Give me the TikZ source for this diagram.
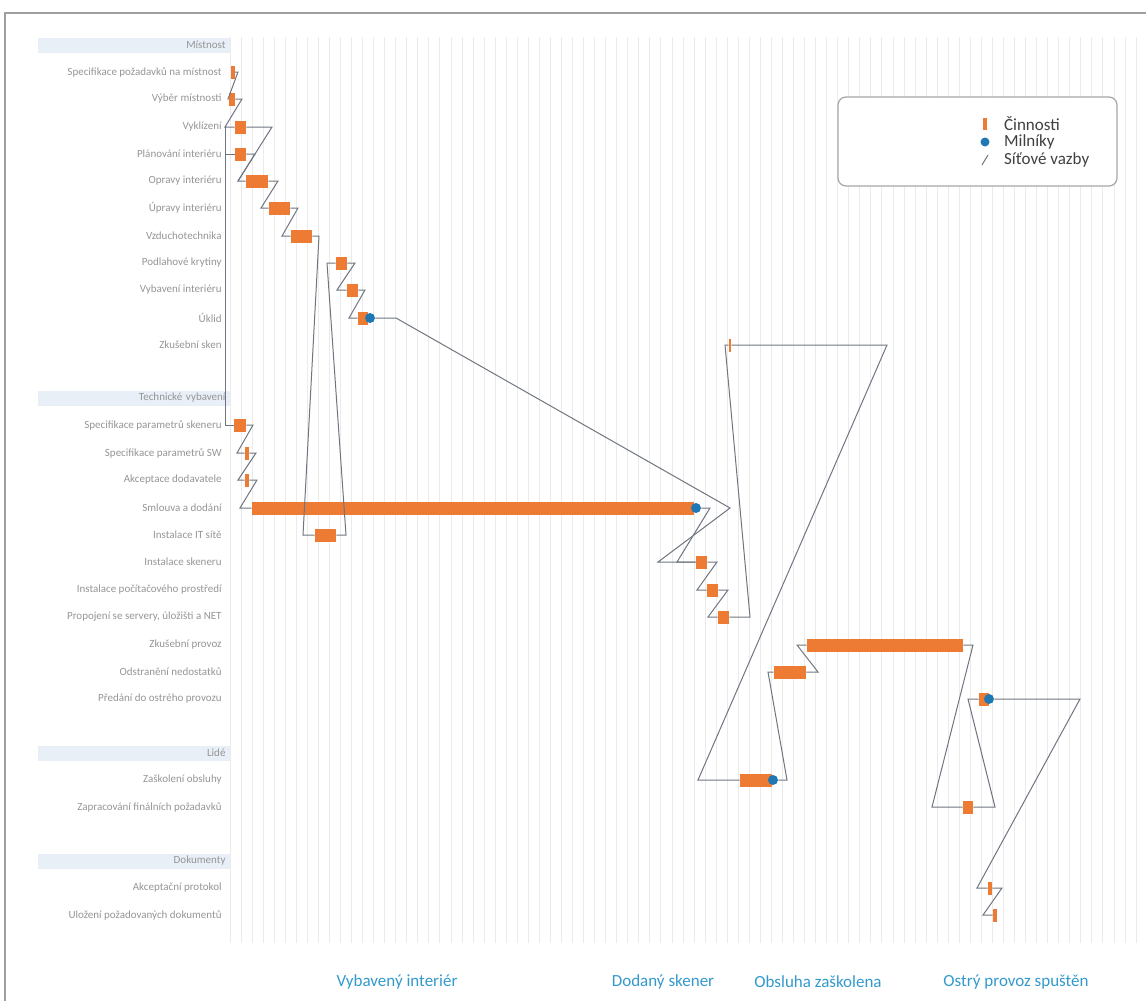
\documentclass[tikz,border=0pt]{standalone}
\usepackage{fontspec}
\setmainfont{Carlito}
\usepackage{tikz}
\definecolor{orange3}{HTML}{EE7B33}
\definecolor{blue3}{HTML}{1F78B4}
\definecolor{link3}{HTML}{6F7580}
\definecolor{label3}{HTML}{959595}
\definecolor{band3}{HTML}{E8EFF7}
\definecolor{grid3}{HTML}{EBEBEB}
\definecolor{title3}{HTML}{3399CC}

\begin{document}
\begin{tikzpicture}[x=0.5pt, y=-0.5pt,
  task/.style={rectangle, fill=orange3, inner sep=0pt, minimum height=6.5pt},
  milestone/.style={circle, fill=blue3, inner sep=0pt, minimum size=5pt},
  link/.style={draw=link3, line width=0.5pt},
  lbl/.style={anchor=east, text=label3, font=\fontsize{5.5}{6}\selectfont, inner sep=1pt},
  header/.style={fill=band3, text=label3, font=\fontsize{5.5}{6}\selectfont, text width=92pt, align=right, minimum height=7.5pt, inner xsep=2pt, inner ysep=0pt},
  goal/.style={text=title3, font=\fontsize{8.5}{10}\selectfont},
  legtext/.style={anchor=west, text=black!75, font=\fontsize{8.5}{10}\selectfont}]

  \useasboundingbox (0,0) rectangle (1146,1001);
  \draw[gray!75, line width=1pt] (5,1001) -- (5,13) -- (1146,13);

  % day grid
  \foreach \i in {0,...,82}
    \draw[grid3, line width=0.5pt] ({230+11.05*\i},37) -- ({230+11.05*\i},943);

  % sections and rows
  \node[header] (h1) at (133.5,45) {Místnost};
  \node[lbl] (l1) at (224,72) {Specifikace požadavků na místnost};
  \node[lbl] (l2) at (224,99) {Výběr místnosti};
  \node[lbl] (l3) at (224,127) {Vyklízení};
  \node[lbl] (l4) at (224,154) {Plánování interiéru};
  \node[lbl] (l5) at (224,181) {Opravy interiéru};
  \node[lbl] (l6) at (224,208) {Úpravy interiéru};
  \node[lbl] (l7) at (224,236) {Vzduchotechnika};
  \node[lbl] (l8) at (224,263) {Podlahové krytiny};
  \node[lbl] (l9) at (224,290) {Vybavení interiéru};
  \node[lbl] (l10) at (224,318) {Úklid};
  \node[lbl] (l11) at (224,345) {Zkušební sken};

  \node[header] (h2) at (133.5,398) {Technické vybavení};
  \node[lbl] (l12) at (224,425) {Specifikace parametrů skeneru};
  \node[lbl] (l13) at (224,453) {Specifikace parametrů SW};
  \node[lbl] (l14) at (224,480) {Akceptace dodavatele};
  \node[lbl] (l15) at (224,508) {Smlouva a dodání};
  \node[lbl] (l16) at (224,535) {Instalace IT sítě};
  \node[lbl] (l17) at (224,562) {Instalace skeneru};
  \node[lbl] (l18) at (224,590) {Instalace počítačového prostředí};
  \node[lbl] (l19) at (224,617) {Propojení se servery, úložišti a NET};
  \node[lbl] (l20) at (224,645) {Zkušební provoz};
  \node[lbl] (l21) at (224,672) {Odstranění nedostatků};
  \node[lbl] (l22) at (224,699) {Předání do ostrého provozu};

  \node[header] (h3) at (133.5,753) {Lidé};
  \node[lbl] (l23) at (224,780) {Zaškolení obsluhy};
  \node[lbl] (l24) at (224,807) {Zapracování finálních požadavků};

  \node[header] (h4) at (133.5,861) {Dokumenty};
  \node[lbl] (l25) at (224,888) {Akceptační protokol};
  \node[lbl] (l26) at (224,915) {Uložení požadovaných dokumentů};

  % activities
  \node[task, minimum width=2pt] (t1) at (232.5,72) {};
  \node[task, minimum width=3pt] (t2) at (232,99) {};
  \node[task, minimum width=5.5pt] (t3) at (240.5,127) {};
  \node[task, minimum width=5.5pt] (t4) at (240.5,154) {};
  \node[task, minimum width=11pt] (t5) at (257,181) {};
  \node[task, minimum width=10.5pt] (t6) at (279.5,208) {};
  \node[task, minimum width=10.5pt] (t7) at (301.5,236) {};
  \node[task, minimum width=5.5pt] (t8) at (341.5,263) {};
  \node[task, minimum width=5.5pt] (t9) at (352.5,290) {};
  \node[task, minimum width=5pt] (t10) at (363,318) {};
  \node[task, minimum width=1pt] (t11) at (730,345) {};
  \node[task, minimum width=6pt] (t12) at (240,425) {};
  \node[task, minimum width=2pt] (t13) at (247,453) {};
  \node[task, minimum width=2pt] (t14) at (247,480) {};
  \node[task, minimum width=221pt] (t15) at (473,508) {};
  \node[task, minimum width=10.5pt] (t16) at (325.5,535) {};
  \node[task, minimum width=5.5pt] (t17) at (701.5,562) {};
  \node[task, minimum width=5.5pt] (t18) at (712.5,590) {};
  \node[task, minimum width=5.5pt] (t19) at (723.5,617) {};
  \node[task, minimum width=78pt] (t20) at (885,645) {};
  \node[task, minimum width=16pt] (t21) at (790,672) {};
  \node[task, minimum width=5pt] (t22) at (984,699) {};
  \node[task, minimum width=16pt] (t23) at (756,780) {};
  \node[task, minimum width=5pt] (t24) at (968,807) {};
  \node[task, minimum width=2pt] (t25) at (990,888) {};
  \node[task, minimum width=2pt] (t26) at (995,915) {};

  % milestones
  \node[milestone] (m10) at (370,318) {};
  \node[milestone] (m15) at (696,508) {};
  \node[milestone] (m22) at (989,699) {};
  \node[milestone] (m23) at (773,780) {};

  % network links
  \coordinate (j2) at (225,127);
  \draw[link] (t1.east) -- (238,72) -- (228,99) -- (t2.west);
  \draw[link] (t2.east) -- (242,99) -- (j2) -- (t3.west);
  \draw[link] (j2) |- (t4.west);
  \draw[link] (j2) |- (t12.west);
  \draw[link] (t3.east) -- (272,127) -- (238,181) -- (t5.west);
  \draw[link] (t4.east) -- (255,154) -- (238,181);
  \draw[link] (t5.east) -- (278,181) -- (261,208) -- (t6.west);
  \draw[link] (t6.east) -- (298,208) -- (282,236) -- (t7.west);
  \draw[link] (t7.east) -- (319,236) -- (303,535) -- (t16.west);
  \draw[link] (t16.east) -- (346,535) -- (327,263) -- (t8.west);
  \draw[link] (t8.east) -- (355,263) -- (337,290) -- (t9.west);
  \draw[link] (t9.east) -- (365,290) -- (349,318) -- (t10.west);
  \draw[link] (m10.east) -- (396,318) -- (730,508) -- (658,562) -- (t17.west);
  \draw[link] (t12.east) -- (253,425) -- (237,453) -- (t13.west);
  \draw[link] (t13.east) -- (256,453) -- (238,480) -- (t14.west);
  \draw[link] (t14.east) -- (257,480) -- (240,508) -- (t15.west);
  \draw[link] (m15.east) -- (710,508) -- (677,562) -- (t17.west);
  \draw[link] (t17.east) -- (717,562) -- (697,590) -- (t18.west);
  \draw[link] (t18.east) -- (728,590) -- (708,617) -- (t19.west);
  \draw[link] (t19.east) -- (750,617) -- (725,345) -- (t11.west);
  \draw[link] (t11.east) -- (887,345) -- (698,780) -- (t23.west);
  \draw[link] (m23.east) -- (787,780) -- (768,672) -- (t21.west);
  \draw[link] (t21.east) -- (818,672) -- (797,645) -- (t20.west);
  \draw[link] (t20.east) -- (973,645) -- (932,807) -- (t24.west);
  \draw[link] (t24.east) -- (995,807) -- (968,699) -- (t22.west);
  \draw[link] (m22.east) -- (1080,699) -- (977,888) -- (t25.west);
  \draw[link] (t25.east) -- (1002,888) -- (983,915) -- (t26.west);

  % legend
  \node[draw=gray!70, line width=0.6pt, rounded corners=4pt, fill=white, minimum width=139.5pt, minimum height=44.5pt] (legend) at (977.5,141.5) {};
  \node[task, minimum width=2pt, minimum height=6pt] (lg1) at (985,124) {};
  \node[legtext] (lgt1) at (997,124) {Činnosti};
  \node[milestone, minimum size=4.5pt] (lg2) at (985,142) {};
  \node[legtext] (lgt2) at (997,142) {Milníky};
  \coordinate (lg3a) at (982,165);
  \coordinate (lg3b) at (988,155);
  \draw[link] (lg3a) -- (lg3b);
  \node[legtext] (lgt3) at (997,160) {Síťové vazby};

  % milestone names
  \node[goal] (g1) at (397,982) {Vybavený interiér};
  \node[goal] (g2) at (663,982) {Dodaný skener};
  \node[goal] (g3) at (818,982) {Obsluha zaškolena};
  \node[goal] (g4) at (1016,982) {Ostrý provoz spuštěn};

\end{tikzpicture}
\end{document}
